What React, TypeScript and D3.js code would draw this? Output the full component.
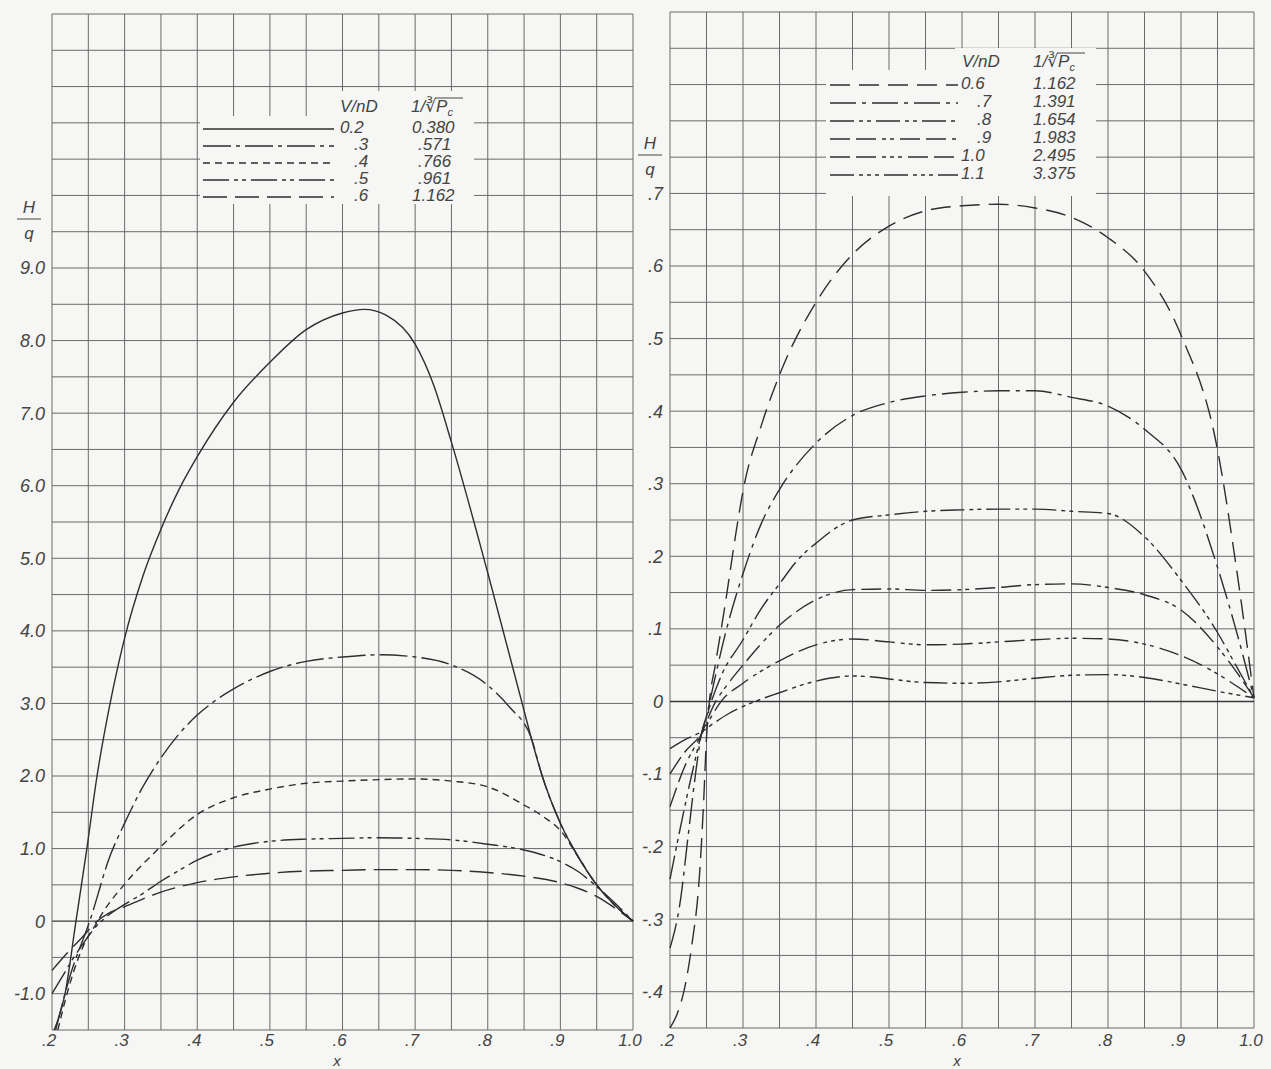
import React from 'react';
import * as d3 from 'd3';

const W = 1271;
const H = 1069;

// ---------- tick labels ----------
const X_TICKS = [0.2, 0.3, 0.4, 0.5, 0.6, 0.7, 0.8, 0.9, 1.0];
const X_TICK_LABELS = ['.2', '.3', '.4', '.5', '.6', '.7', '.8', '.9', '1.0'];
const LEFT_Y_TICKS = [-1, 0, 1, 2, 3, 4, 5, 6, 7, 8, 9];
const LEFT_Y_LABELS = ['-1.0', '0', '1.0', '2.0', '3.0', '4.0', '5.0', '6.0', '7.0', '8.0', '9.0'];
const RIGHT_Y_TICKS = [-0.4, -0.3, -0.2, -0.1, 0, 0.1, 0.2, 0.3, 0.4, 0.5, 0.6, 0.7];
const RIGHT_Y_LABELS = ['-.4', '-.3', '-.2', '-.1', '0', '.1', '.2', '.3', '.4', '.5', '.6', '.7'];

// ---------- legends ----------
const LEFT_VND = ['0.2', '.3', '.4', '.5', '.6'];
const LEFT_PC = ['0.380', '.571', '.766', '.961', '1.162'];
const RIGHT_VND = ['0.6', '.7', '.8', '.9', '1.0', '1.1'];
const RIGHT_PC = ['1.162', '1.391', '1.654', '1.983', '2.495', '3.375'];

// ---------- left panel series (H/q vs x) ----------
const L02_X = [0.203, 0.218, 0.233, 0.248, 0.262, 0.28, 0.30, 0.325, 0.35, 0.375, 0.40, 0.45, 0.50, 0.55, 0.60, 0.63, 0.66, 0.70, 0.725, 0.75, 0.80, 0.85, 0.86, 0.875, 0.90, 0.925, 0.95, 0.975, 1.0];
const L02_Y = [-1.5, -1.0, 0, 1.0, 2.0, 3.0, 3.9, 4.75, 5.4, 5.95, 6.4, 7.15, 7.7, 8.15, 8.38, 8.43, 8.35, 7.95, 7.4, 6.6, 4.8, 2.9, 2.52, 2.0, 1.35, 0.88, 0.5, 0.22, 0];

const L03_X = [0.205, 0.225, 0.252, 0.28, 0.30, 0.325, 0.35, 0.375, 0.40, 0.425, 0.45, 0.50, 0.55, 0.60, 0.65, 0.70, 0.75, 0.80, 0.83, 0.86, 0.875, 0.90, 0.925, 0.95, 0.975, 1.0];
const L03_Y = [-1.5, -0.75, 0, 0.9, 1.35, 1.85, 2.25, 2.58, 2.84, 3.04, 3.2, 3.44, 3.58, 3.64, 3.67, 3.64, 3.53, 3.25, 2.95, 2.52, 2.0, 1.35, 0.88, 0.5, 0.22, 0];

const L04_X = [0.208, 0.225, 0.245, 0.26, 0.27, 0.30, 0.35, 0.40, 0.45, 0.50, 0.55, 0.60, 0.65, 0.70, 0.75, 0.80, 0.85, 0.875, 0.90, 0.925, 0.95, 0.975, 1.0];
const L04_Y = [-1.5, -0.85, -0.3, -0.05, 0.12, 0.51, 1.03, 1.47, 1.7, 1.82, 1.9, 1.93, 1.95, 1.96, 1.93, 1.85, 1.6, 1.45, 1.25, 0.88, 0.5, 0.22, 0];

const L05_X = [0.2, 0.215, 0.23, 0.245, 0.26, 0.275, 0.30, 0.325, 0.35, 0.375, 0.40, 0.45, 0.50, 0.55, 0.60, 0.65, 0.70, 0.75, 0.80, 0.85, 0.90, 0.925, 0.945, 0.975, 1.0];
const L05_Y = [-1.0, -0.75, -0.5, -0.28, -0.08, 0.06, 0.23, 0.38, 0.55, 0.7, 0.84, 1.02, 1.1, 1.13, 1.14, 1.15, 1.14, 1.12, 1.06, 0.98, 0.82, 0.68, 0.52, 0.25, 0];

const L06_X = [0.2, 0.22, 0.24, 0.26, 0.28, 0.30, 0.35, 0.40, 0.45, 0.50, 0.55, 0.60, 0.65, 0.70, 0.75, 0.80, 0.85, 0.90, 0.925, 0.95, 0.975, 1.0];
const L06_Y = [-0.68, -0.45, -0.24, -0.02, 0.12, 0.2, 0.4, 0.53, 0.61, 0.66, 0.69, 0.7, 0.71, 0.71, 0.7, 0.67, 0.62, 0.53, 0.45, 0.34, 0.18, 0];

// ---------- right panel series ----------
const R06_X = [0.2, 0.21, 0.22, 0.23, 0.24, 0.246, 0.25, 0.254, 0.262, 0.275, 0.29, 0.30, 0.325, 0.35, 0.40, 0.45, 0.50, 0.55, 0.60, 0.65, 0.70, 0.75, 0.80, 0.85, 0.90, 0.95, 0.975, 1.0];
const R06_Y = [-0.45, -0.43, -0.395, -0.335, -0.245, -0.14, -0.05, 0.0, 0.05, 0.13, 0.23, 0.29, 0.38, 0.45, 0.55, 0.616, 0.655, 0.676, 0.683, 0.685, 0.68, 0.667, 0.639, 0.593, 0.505, 0.347, 0.19, 0.005];

const R07_X = [0.2, 0.214, 0.225, 0.236, 0.243, 0.25, 0.26, 0.275, 0.30, 0.325, 0.35, 0.40, 0.45, 0.50, 0.55, 0.60, 0.65, 0.70, 0.75, 0.80, 0.85, 0.90, 0.95, 0.975, 1.0];
const R07_Y = [-0.34, -0.276, -0.184, -0.092, -0.045, -0.02, 0.025, 0.09, 0.176, 0.245, 0.292, 0.356, 0.394, 0.412, 0.421, 0.426, 0.428, 0.428, 0.419, 0.407, 0.375, 0.32, 0.185, 0.1, 0.005];

const R08_X = [0.2, 0.215, 0.23, 0.243, 0.255, 0.27, 0.30, 0.325, 0.35, 0.375, 0.40, 0.45, 0.50, 0.55, 0.60, 0.65, 0.70, 0.75, 0.80, 0.85, 0.90, 0.95, 0.975, 1.0];
const R08_Y = [-0.245, -0.17, -0.1, -0.045, -0.005, 0.035, 0.085, 0.128, 0.162, 0.195, 0.218, 0.25, 0.257, 0.262, 0.264, 0.265, 0.265, 0.262, 0.259, 0.227, 0.167, 0.095, 0.05, 0.005];

const R09_X = [0.2, 0.22, 0.243, 0.26, 0.28, 0.30, 0.35, 0.40, 0.45, 0.50, 0.55, 0.60, 0.65, 0.70, 0.75, 0.80, 0.85, 0.90, 0.95, 0.975, 1.0];
const R09_Y = [-0.145, -0.09, -0.045, -0.005, 0.025, 0.05, 0.105, 0.14, 0.154, 0.155, 0.153, 0.154, 0.157, 0.161, 0.162, 0.157, 0.147, 0.126, 0.075, 0.042, 0.005];

const R10_X = [0.2, 0.22, 0.243, 0.26, 0.27, 0.30, 0.35, 0.40, 0.45, 0.50, 0.55, 0.60, 0.65, 0.70, 0.75, 0.80, 0.85, 0.90, 0.95, 0.975, 1.0];
const R10_Y = [-0.1, -0.07, -0.045, -0.015, 0.0, 0.025, 0.056, 0.078, 0.086, 0.082, 0.078, 0.079, 0.082, 0.085, 0.087, 0.086, 0.079, 0.063, 0.038, 0.022, 0.005];

const R11_X = [0.2, 0.22, 0.243, 0.26, 0.28, 0.30, 0.35, 0.40, 0.45, 0.475, 0.50, 0.55, 0.60, 0.65, 0.70, 0.75, 0.80, 0.85, 0.90, 0.95, 1.0];
const R11_Y = [-0.065, -0.053, -0.042, -0.03, -0.017, -0.007, 0.012, 0.028, 0.035, 0.034, 0.031, 0.026, 0.025, 0.027, 0.032, 0.036, 0.037, 0.033, 0.024, 0.014, 0.005];

const LEFT_SERIES_X = [L02_X, L03_X, L04_X, L05_X, L06_X];
const LEFT_SERIES_Y = [L02_Y, L03_Y, L04_Y, L05_Y, L06_Y];
const RIGHT_SERIES_X = [R06_X, R07_X, R08_X, R09_X, R10_X, R11_X];
const RIGHT_SERIES_Y = [R06_Y, R07_Y, R08_Y, R09_Y, R10_Y, R11_Y];

// ---------- styles ----------
const LEFT_DASH = ['none', '28,5,4,5', '7,5', '26,5,4,4,4,5', '24,8'];
const RIGHT_DASH = ['20,9', '26,6,4,6', '24,5,4,4,4,5', '20,6,20,6,4,4,4,6', '20,6,20,6,4,4,4,4,4,6', '24,5,4,4,4,4,4,5'];

const FONT = "'Liberation Sans', 'DejaVu Sans', sans-serif";
const INK = '#2e2e2e';
const GRID = '#6a6a6a';
const PAPER = '#f6f6f4';

type PanelProps = {
  x0: number; x1: number; yTop: number; yBot: number;
  yDomain: [number, number]; yStep: number;
  seriesX: number[][]; seriesY: number[][]; dashes: string[];
  yTicks: number[]; yLabels: string[]; yLabelX: number;
};

function Panel(p: PanelProps) {
  const x = d3.scaleLinear().domain([0.2, 1.0]).range([p.x0, p.x1]);
  const y = d3.scaleLinear().domain(p.yDomain).range([p.yBot, p.yTop]);
  const nx = Math.round((1.0 - 0.2) / 0.05);
  const ny = Math.round((p.yDomain[1] - p.yDomain[0]) / p.yStep);
  const gx = d3.range(nx + 1).map(i => 0.2 + i * 0.05);
  const gy = d3.range(ny + 1).map(i => p.yDomain[0] + i * p.yStep);
  const line = d3.line<[number, number]>().x(d => x(d[0])).y(d => y(d[1])).curve(d3.curveMonotoneX);
  return (
    <g>
      {gx.map((v, i) => (
        <line key={'gx' + i} x1={x(v)} x2={x(v)} y1={p.yTop} y2={p.yBot} stroke={GRID} strokeWidth={1} />
      ))}
      {gy.map((v, i) => (
        <line key={'gy' + i} x1={p.x0} x2={p.x1} y1={y(v)} y2={y(v)} stroke={Math.abs(v) < 1e-9 ? '#3a3a3a' : GRID} strokeWidth={Math.abs(v) < 1e-9 ? 1.4 : 1} />
      ))}
      {p.seriesX.map((xs, i) => (
        <path key={'s' + i} d={line(xs.map((xv, j) => [xv, p.seriesY[i][j]] as [number, number])) || ''}
          fill="none" stroke={INK} strokeWidth={1.4} strokeDasharray={p.dashes[i] === 'none' ? undefined : p.dashes[i]} />
      ))}
      {p.yTicks.map((v, i) => (
        <text key={'yl' + i} x={p.yLabelX} y={y(v)} dy="0.36em" textAnchor="end" fontFamily={FONT} fontStyle="italic" fontSize={18} fill="#444">{p.yLabels[i]}</text>
      ))}
      {X_TICKS.map((v, i) => (
        <text key={'xl' + i} x={x(v) - 3} y={1046} textAnchor="middle" fontFamily={FONT} fontStyle="italic" fontSize={17} fill="#444">{X_TICK_LABELS[i]}</text>
      ))}
    </g>
  );
}

function Header({ x, y, x2 }: { x: number; y: number; x2: number }) {
  return (
    <g fontFamily={FONT} fontStyle="italic" fontSize={17} fill="#444">
      <text x={x} y={y}>V/nD</text>
      <text x={x2} y={y}>1/<tspan fontSize={17}>∛</tspan>P<tspan fontSize={11} dy={4}>c</tspan></text>
      <line x1={x2 + 24} x2={x2 + 52} y1={y - 14} y2={y - 14} stroke="#444" strokeWidth={1} />
    </g>
  );
}

type LegendProps = {
  vnd: string[]; pc: string[]; dashes: string[];
  lx0: number; lx1: number; rowY0: number; rowDy: number;
  c1Dot: number; c1Num: number; c2Dot: number; c2Num: number;
};

function Legend(p: LegendProps) {
  return (
    <g>
      {p.vnd.map((v, i) => {
        const cy = p.rowY0 + i * p.rowDy;
        return (
          <g key={i}>
            <line x1={p.lx0} x2={p.lx1} y1={cy + 2} y2={cy + 2} stroke={INK} strokeWidth={1.4}
              strokeDasharray={p.dashes[i] === 'none' ? undefined : p.dashes[i]} />
            <text x={v.startsWith('.') ? p.c1Dot : p.c1Num} y={cy} dy="0.36em" fontFamily={FONT} fontStyle="italic" fontSize={17} fill="#444">{v}</text>
            <text x={p.pc[i].startsWith('.') ? p.c2Dot : p.c2Num} y={cy} dy="0.36em" fontFamily={FONT} fontStyle="italic" fontSize={17} fill="#444">{p.pc[i]}</text>
          </g>
        );
      })}
    </g>
  );
}

function HQ({ x, y }: { x: number; y: number }) {
  return (
    <g fontFamily={FONT} fontStyle="italic" fontSize={17} fill="#444">
      <text x={x} y={y} textAnchor="middle">H</text>
      <line x1={x - 12} x2={x + 12} y1={y + 6} y2={y + 6} stroke="#444" strokeWidth={1} />
      <text x={x} y={y + 26} textAnchor="middle">q</text>
    </g>
  );
}

export default function App() {
  return (
    <svg width={W} height={H} style={{ position: 'absolute', left: 0, top: 0, display: 'block' }}>
      <rect x={0} y={0} width={W} height={H} fill={PAPER} />
      <Panel x0={52} x1={633} yTop={14} yBot={1030} yDomain={[-1.5, 12.5]} yStep={0.5}
        seriesX={LEFT_SERIES_X} seriesY={LEFT_SERIES_Y} dashes={LEFT_DASH}
        yTicks={LEFT_Y_TICKS} yLabels={LEFT_Y_LABELS} yLabelX={45} />
      <Panel x0={670} x1={1254} yTop={12} yBot={1028} yDomain={[-0.45, 0.95]} yStep={0.05}
        seriesX={RIGHT_SERIES_X} seriesY={RIGHT_SERIES_Y} dashes={RIGHT_DASH}
        yTicks={RIGHT_Y_TICKS} yLabels={RIGHT_Y_LABELS} yLabelX={663} />

      {/* left legend */}
      <rect x={200} y={116} width={274} height={88} fill={PAPER} />
      <rect x={336} y={91} width={138} height={26} fill={PAPER} />
      <Header x={340} y={112} x2={411} />
      <Legend vnd={LEFT_VND} pc={LEFT_PC} dashes={LEFT_DASH} lx0={203} lx1={334} rowY0={127} rowDy={17}
        c1Dot={354} c1Num={340} c2Dot={418} c2Num={412} />

      {/* right legend */}
      <rect x={826} y={70} width={270} height={126} fill={PAPER} />
      <rect x={955} y={48} width={141} height={23} fill={PAPER} />
      <Header x={962} y={67} x2={1033} />
      <Legend vnd={RIGHT_VND} pc={RIGHT_PC} dashes={RIGHT_DASH} lx0={830} lx1={958} rowY0={83} rowDy={18}
        c1Dot={977} c1Num={961} c2Dot={1040} c2Num={1033} />

      <HQ x={29} y={213} />
      <HQ x={650} y={149} />
      <text x={337} y={1066} textAnchor="middle" fontFamily={FONT} fontStyle="italic" fontSize={15} fill="#444">x</text>
      <text x={957} y={1066} textAnchor="middle" fontFamily={FONT} fontStyle="italic" fontSize={15} fill="#444">x</text>
    </svg>
  );
}
